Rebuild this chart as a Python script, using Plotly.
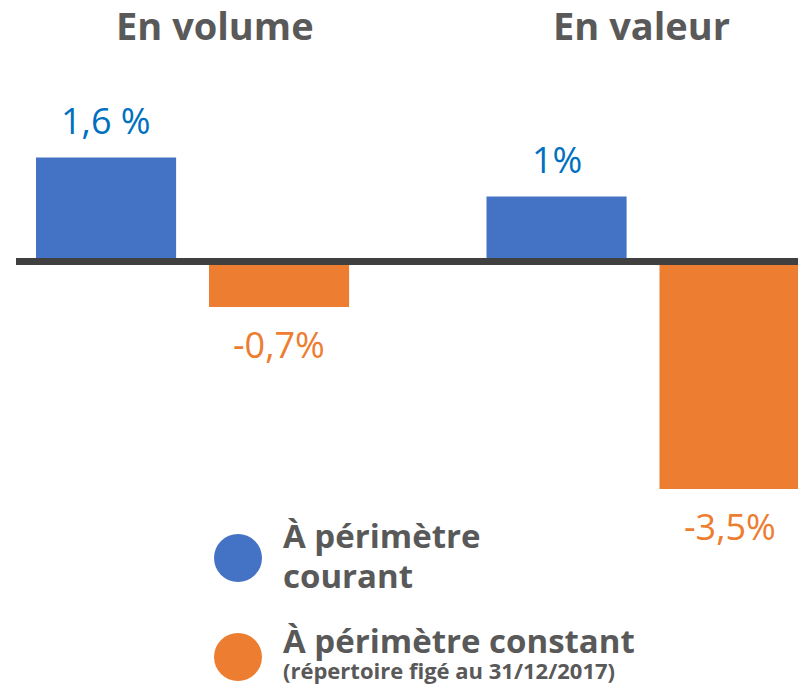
import plotly.graph_objects as go

categories = ["En volume", "En valeur"]
series_names = ["À périmètre courant", "À périmètre constant"]
courant = [1.6, 1.0]
constant = [-0.7, -3.5]
labels_courant = ["1,6 %", "1%"]
labels_constant = ["-0,7%", "-3,5%"]

BLUE = "#4472C4"
ORANGE = "#ED7D31"
BLUE_TXT = "#0070C0"
GREY = "#595959"

W, H = 806, 687
OFF = 8  # page body margin
bar_w = 0.311
off_blue = -0.3474
off_orange = 0.0366


def px(xr):
    return (xr - OFF) / W


def py(yr):
    return 1 - (yr - OFF) / H


fig = go.Figure()
fig.add_trace(go.Bar(x=categories, y=courant, name=series_names[0],
                     marker=dict(color=BLUE, line=dict(width=0)),
                     width=bar_w, offset=off_blue, showlegend=False))
fig.add_trace(go.Bar(x=categories, y=constant, name=series_names[1],
                     marker=dict(color=ORANGE, line=dict(width=0)),
                     width=bar_w, offset=off_orange, showlegend=False))

ann = []
for i, (v, t) in enumerate(zip(courant, labels_courant)):
    ann.append(dict(x=i + off_blue + bar_w / 2, y=v, xref="x", yref="y", text=t,
                    showarrow=False, yanchor="middle", yshift=37,
                    font=dict(family="Open Sans", size=36, color=BLUE_TXT)))
for i, (v, t) in enumerate(zip(constant, labels_constant)):
    ann.append(dict(x=i + off_orange + bar_w / 2, y=v, xref="x", yref="y", text=t,
                    showarrow=False, yanchor="middle", yshift=-37,
                    font=dict(family="Open Sans", size=36, color=ORANGE)))

# titles
for cx, t in [(215, categories[0]), (641, categories[1])]:
    ann.append(dict(x=px(cx), y=py(24.5), xref="paper", yref="paper", text="<b>%s</b>" % t,
                    showarrow=False, xanchor="center", yanchor="middle",
                    font=dict(family="Open Sans", size=38, color=GREY)))

# legend texts
legend_lines = [("À périmètre", 535, 33), ("courant", 575, 33),
                ("À périmètre constant", 640, 33), ("(répertoire figé au 31/12/2017)", 670, 22)]
for t, cy, sz in legend_lines:
    ann.append(dict(x=px(281), y=py(cy), xref="paper", yref="paper", text="<b>%s</b>" % t,
                    showarrow=False, xanchor="left", yanchor="middle",
                    font=dict(family="Open Sans", size=sz, color=GREY)))

shapes = [
    dict(type="line", xref="paper", yref="y", x0=px(16), x1=1, y0=0, y1=0,
         line=dict(color="#404040", width=7), layer="above"),
]
for cy, col in [(558, BLUE), (657, ORANGE)]:
    shapes.append(dict(type="circle", xref="paper", yref="paper",
                       x0=px(214), x1=px(262), y0=py(cy + 24), y1=py(cy - 24),
                       fillcolor=col, line=dict(width=0)))

px_per_unit = 65.0
zero_px = 261.5 - OFF
ymax = zero_px / px_per_unit
ymin = -(H - zero_px) / px_per_unit
cat_px = 450.5
xmin = -(192.5 - OFF) / cat_px
xmax = xmin + W / cat_px

fig.update_layout(
    width=W, height=H, margin=dict(l=0, r=0, t=0, b=0),
    paper_bgcolor="white", plot_bgcolor="white",
    xaxis=dict(range=[xmin, xmax], visible=False, type="category"),
    yaxis=dict(range=[ymin, ymax], visible=False),
    annotations=ann, shapes=shapes, barmode="overlay",
)
fig.write_html("out.html")
